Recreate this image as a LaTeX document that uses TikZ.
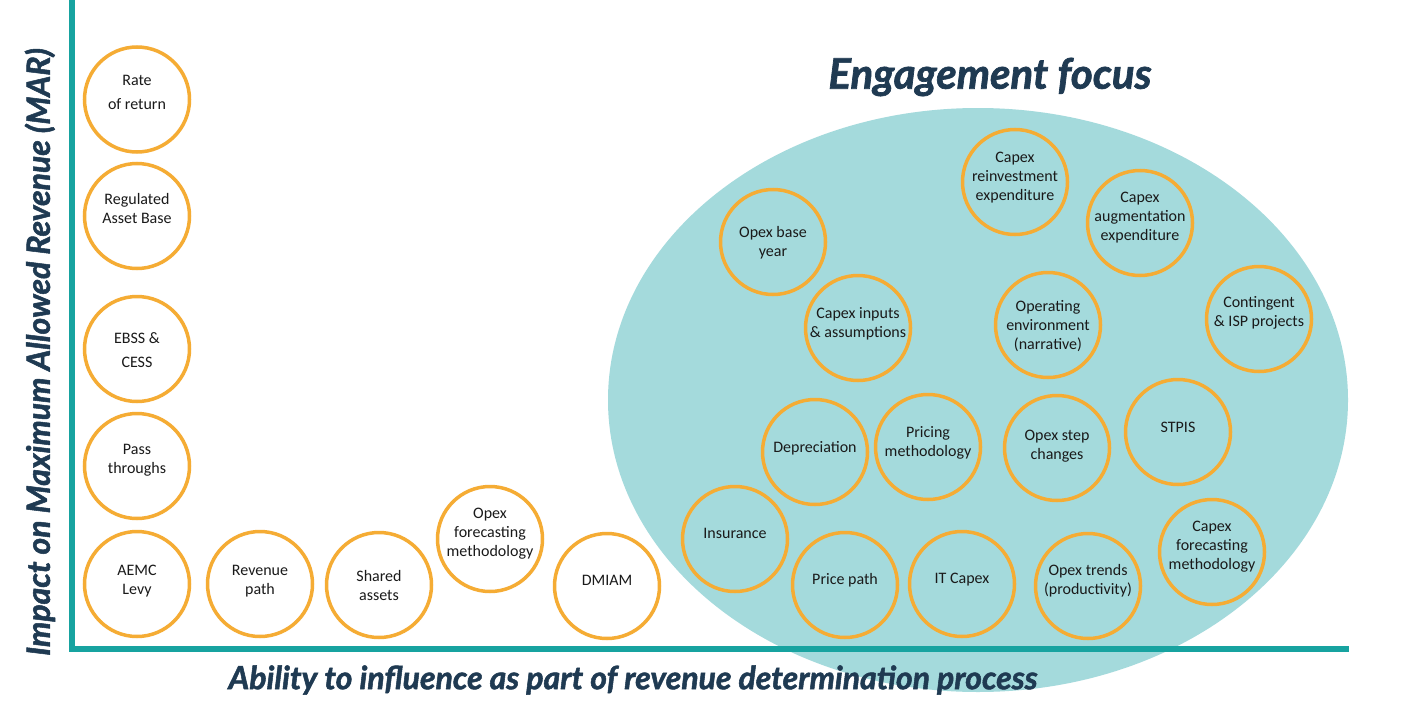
\documentclass[tikz,border=0pt]{standalone}
\usepackage{fontspec}
\setmainfont{Carlito}
\newfontfamily\headfont{Lato}[BoldItalicFeatures={FakeBold=1.6}]
\definecolor{axisteal}{HTML}{17A3A0}
\definecolor{focusfill}{HTML}{A4DADC}
\definecolor{bubring}{HTML}{F5AC34}
\definecolor{headnavy}{HTML}{1F3A52}
\definecolor{bubtext}{HTML}{1A1A1A}
\tikzset{
  axisline/.style={draw=axisteal, line width=6.5pt},
  focusarea/.style={fill=focusfill, draw=none},
  bubble/.style={circle, draw=bubring, line width=3.5pt, minimum size=105pt, inner sep=0pt},
  bubtxt/.style={align=center, text=bubtext, inner sep=0pt, font=\fontsize{16}{19}\selectfont},
  headtxt/.style={text=headnavy, inner sep=0pt, font=\headfont\bfseries\itshape},
}
\newcommand{\bubitem}[6]{%
  \node[bubble] (#1) at (#2,#3) {};
  \node[bubtxt] (#1-t) at (#2,#4) {#5#6};
}
\begin{document}
\begin{tikzpicture}[x=1pt,y=-1pt]
\useasboundingbox[fill=white] (0,0) rectangle (1418,717);
% focus area
\fill[focusarea] (978,400) ellipse [x radius=370, y radius=292];
\node[headtxt, font=\headfont\bfseries\itshape\fontsize{42}{44}\selectfont] (title) at (990,77) {Engagement focus};
% axes
\coordinate (ytop) at (72,-5);
\coordinate (origin) at (72,649);
\coordinate (xend) at (1349,649);
\draw[axisline] (ytop) -- (origin) -- (xend);
\node[headtxt, rotate=90, font=\headfont\bfseries\itshape\fontsize{32}{34}\selectfont] (ylab) at (40,352) {Impact on Maximum Allowed Revenue (MAR)};
\node[headtxt, font=\headfont\bfseries\itshape\fontsize{32}{34}\selectfont] (xlab) at (633,680) {Ability to influence as part of revenue determination process};
% left column
\bubitem{rate}{137}{99.5}{92}{Rate\\[5pt]of return}{}
\bubitem{rab}{137}{216}{209}{Regulated\\Asset Base}{}
\bubitem{ebss}{137}{349}{350}{EBSS \&\\[5pt]CESS}{}
\bubitem{pass}{137}{466}{460}{Pass\\throughs}{}
\bubitem{aemc}{137}{584}{581}{AEMC\\Levy}{}
% bottom row
\bubitem{revpath}{260}{584}{581}{Revenue\\path}{}
\bubitem{shared}{379}{585}{585}{Shared\\assets}{}
\bubitem{opexfm}{490}{539}{534}{Opex\\forecasting\\methodology}{}
\bubitem{dmiam}{607}{586}{580}{DMIAM}{}
% focus bubbles
\bubitem{insur}{735}{539}{533}{Insurance}{}
\bubitem{price}{845}{585}{580}{Price path}{}
\bubitem{itcapex}{962}{584}{580}{IT Capex}{}
\bubitem{opextr}{1088}{586}{581}{Opex trends\\(productivity)}{}
\bubitem{capexfm}{1212}{552}{547}{Capex\\forecasting\\methodology}{}
\bubitem{deprec}{815}{452}{448}{Depreciation}{}
\bubitem{pricing}{928}{447}{442.5}{Pricing\\methodology}{}
\bubitem{opexstep}{1057}{448}{446}{Opex step\\changes}{}
\bubitem{stpis}{1178}{432}{427}{STPIS}{}
\bubitem{capexin}{858}{328}{323.5}{Capex inputs\\\& assumptions}{}
\bubitem{openv}{1048}{325}{326}{Operating\\environment\\(narrative)}{}
\bubitem{conting}{1259}{319}{313}{Contingent\\\& ISP projects}{}
\bubitem{opexbase}{773}{242}{242.5}{Opex base\\year}{}
\bubitem{capexre}{1015}{182}{178}{Capex\\reinvestment\\expenditure}{}
\bubitem{capexaug}{1140}{223}{218}{Capex\\augmentation\\expenditure}{}
\end{tikzpicture}
\end{document}
